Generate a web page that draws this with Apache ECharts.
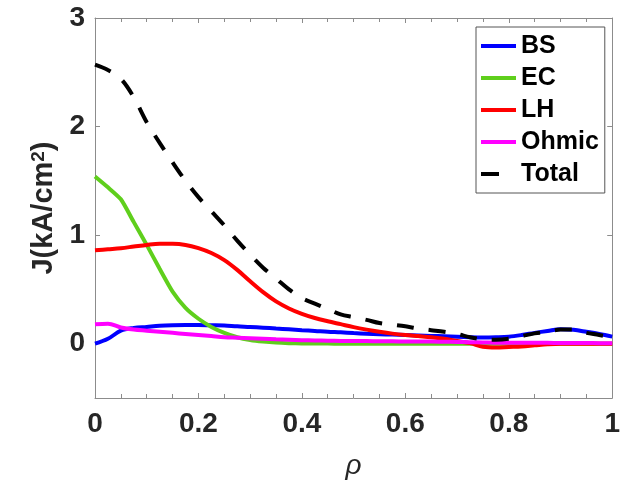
<!DOCTYPE html>
<html>
<head>
<meta charset="utf-8">
<script src="https://cdn.jsdelivr.net/npm/echarts@6/dist/echarts.min.js"></script>
<style>
html,body{margin:0;padding:0;background:#fff;}
#chart{width:623px;height:485px;}
</style>
</head>
<body>
<div id="chart"></div>
<script>
// Data
const rho = [0, 0.025, 0.05, 0.075, 0.1, 0.125, 0.15, 0.175, 0.2, 0.225, 0.25, 0.275, 0.3, 0.325, 0.35, 0.375, 0.4, 0.425, 0.45, 0.475, 0.5,
             0.525, 0.55, 0.575, 0.6, 0.625, 0.65, 0.675, 0.7, 0.725, 0.75, 0.775, 0.8, 0.825, 0.85, 0.875, 0.9, 0.925, 0.95, 0.975, 1.0];
const bsJ = [0, 0.045, 0.12, 0.145, 0.155, 0.165, 0.17, 0.172, 0.172, 0.17, 0.168, 0.16, 0.155, 0.148, 0.14, 0.133, 0.125, 0.118, 0.11, 0.105, 0.098,
             0.092, 0.088, 0.084, 0.08, 0.076, 0.072, 0.068, 0.064, 0.06, 0.058, 0.06, 0.065, 0.08, 0.10, 0.118, 0.134, 0.128, 0.11, 0.09, 0.065];
const ecJ = [1.54, 1.44, 1.33, 1.12, 0.91, 0.69, 0.48, 0.33, 0.23, 0.155, 0.10, 0.06, 0.035, 0.02, 0.01, 0.005, 0.003, 0.002, 0.001, 0, 0,
             0, 0, 0, 0, 0, 0, 0, 0, 0, 0, 0, 0, 0, 0, 0, 0, 0, 0, 0, 0];
const lhJ = [0.86, 0.87, 0.88, 0.895, 0.91, 0.92, 0.92, 0.91, 0.88, 0.835, 0.77, 0.68, 0.575, 0.475, 0.39, 0.325, 0.275, 0.237, 0.207, 0.18, 0.153,
             0.13, 0.11, 0.093, 0.08, 0.07, 0.06, 0.045, 0.025, 0.005, -0.028, -0.035, -0.03, -0.025, -0.015, -0.005, 0, 0, 0, 0, 0];
const ohmicJ = [0.18, 0.185, 0.15, 0.13, 0.12, 0.11, 0.10, 0.09, 0.08, 0.07, 0.06, 0.055, 0.05, 0.045, 0.04, 0.036, 0.032, 0.03, 0.028, 0.026, 0.025,
                0.024, 0.023, 0.022, 0.021, 0.02, 0.02, 0.018, 0.016, 0.014, 0.012, 0.01, 0.01, 0.009, 0.008, 0.008, 0.007, 0.006, 0.006, 0.005, 0.005];
const totalJ = [2.57, 2.52, 2.44, 2.27, 2.04, 1.85, 1.67, 1.50, 1.35, 1.22, 1.09, 0.95, 0.82, 0.70, 0.60, 0.50, 0.42, 0.37, 0.32, 0.27, 0.245,
                0.22, 0.19, 0.175, 0.16, 0.14, 0.125, 0.11, 0.09, 0.06, 0.04, 0.036, 0.045, 0.07, 0.095, 0.11, 0.13, 0.13, 0.10, 0.08, 0.055];
const yTicks = [0, 1, 2, 3];

const seriesNames = ['BS', 'EC', 'LH', 'Ohmic', 'Total'];
const seriesVals = [bsJ, ecJ, lhJ, ohmicJ, totalJ];
const seriesColors = ['#0000ff', '#5fcf1c', '#ff0000', '#ff00ff', '#000000'];

const FONT = '"Liberation Sans", Arial, Helvetica, sans-serif';
const AXIS_COLOR = '#8c8c8c';
const LABEL_COLOR = '#262626';

function pairs(vals){ return rho.map((r,i)=>[r, vals[i]]); }

const chart = echarts.init(document.getElementById('chart'), null, {renderer:'canvas'});

const series = seriesNames.map((n, i) => ({
  name: n,
  type: 'line',
  data: pairs(seriesVals[i]),
  symbol: 'none',
  smooth: n === 'EC' ? 0.2 : 0.35,
  lineStyle: {
    color: seriesColors[i],
    width: 4,
    type: n === 'Total' ? [17, 15] : 'solid'
  },
  itemStyle: { color: seriesColors[i] },
  z: 2 + i
}));

const legendData = seriesNames.map((n, i) => ({
  name: n,
  icon: n === 'Total' ? 'path://M0,0L18,0L18,4L0,4Z M35,0L35,4' : 'rect',
  itemStyle: { color: seriesColors[i], borderWidth: 0 }
}));

const option = {
  animation: false,
  backgroundColor: '#fff',
  textStyle: { fontFamily: FONT },
  grid: { left: 95, right: 7, top: 18, bottom: 83, containLabel: false },
  legend: {
    data: legendData,
    orient: 'vertical',
    left: 476,
    top: 27,
    padding: [6, 6, 6, 5],
    itemWidth: 35,
    itemHeight: 4,
    itemGap: 6,
    symbolKeepAspect: false,
    borderColor: '#555',
    borderWidth: 1,
    backgroundColor: '#fff',
    textStyle: { fontSize: 25, fontWeight: 'bold', color: '#000', lineHeight: 26, fontFamily: FONT }
  },
  xAxis: [{
    type: 'value', min: 0, max: 1, interval: 0.2,
    position: 'bottom',
    name: 'ρ', nameLocation: 'middle', nameGap: 54,
    nameTextStyle: { fontSize: 28, fontStyle: 'italic', color: LABEL_COLOR, fontFamily: FONT },
    axisLine: { show: true, onZero: false, lineStyle: { color: AXIS_COLOR, width: 1 } },
    axisTick: { show: true, inside: true, length: 5, lineStyle: { color: AXIS_COLOR } },
    minorTick: { show: true, splitNumber: 4, length: 4, lineStyle: { color: AXIS_COLOR } },
    axisLabel: { fontSize: 28, fontWeight: 'bold', color: LABEL_COLOR, margin: 12, fontFamily: FONT },
    splitLine: { show: false }
  }, {
    type: 'value', min: 0, max: 1, interval: 0.2,
    position: 'top',
    axisLine: { show: true, onZero: false, lineStyle: { color: AXIS_COLOR, width: 1 } },
    axisTick: { show: true, inside: true, length: 5, lineStyle: { color: AXIS_COLOR } },
    minorTick: { show: true, splitNumber: 4, length: 4, lineStyle: { color: AXIS_COLOR } },
    axisLabel: { show: false },
    splitLine: { show: false }
  }],
  yAxis: [{
    type: 'value', min: -0.5, max: 3,
    position: 'left',
    name: 'J(kA/cm{sup|2})', nameLocation: 'middle', nameGap: 30,
    nameTextStyle: {
      fontSize: 29, fontWeight: 'bold', color: LABEL_COLOR, fontFamily: FONT,
      rich: { sup: { fontSize: 19, fontWeight: 'bold', color: LABEL_COLOR, verticalAlign: 'top', fontFamily: FONT, padding: [0, 0, 10, 0] } }
    },
    axisLine: { show: true, onZero: false, lineStyle: { color: AXIS_COLOR, width: 1 } },
    axisTick: { show: true, inside: true, length: 5, customValues: yTicks, lineStyle: { color: AXIS_COLOR } },
    axisLabel: { customValues: yTicks, fontSize: 28, fontWeight: 'bold', color: LABEL_COLOR, margin: 10, fontFamily: FONT },
    splitLine: { show: false }
  }, {
    type: 'value', min: -0.5, max: 3,
    position: 'right',
    axisLine: { show: true, onZero: false, lineStyle: { color: AXIS_COLOR, width: 1 } },
    axisTick: { show: true, inside: true, length: 5, customValues: yTicks, lineStyle: { color: AXIS_COLOR } },
    axisLabel: { show: false },
    splitLine: { show: false }
  }],
  series: series
};

chart.setOption(option);
</script>
</body>
</html>
